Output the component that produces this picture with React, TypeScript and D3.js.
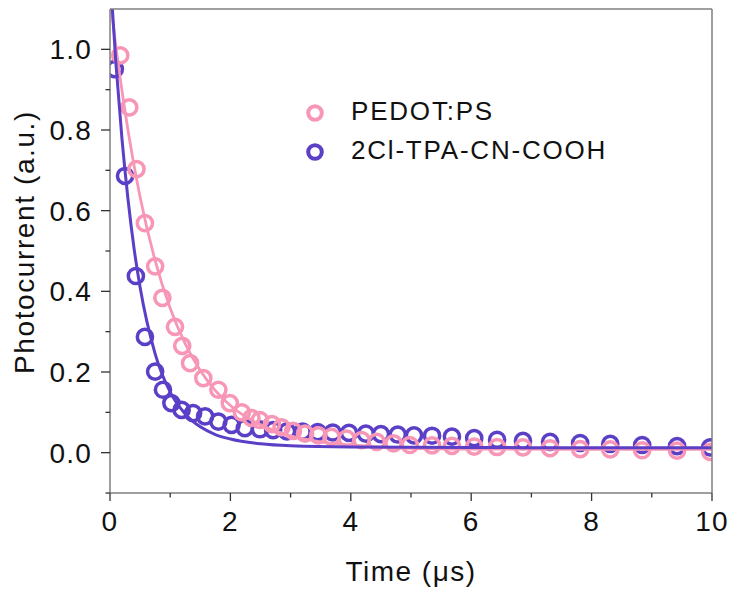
import React from "react";
import * as d3 from "d3";

const xTicks = [0, 2, 4, 6, 8, 10];
const yTicks = [0.0, 0.2, 0.4, 0.6, 0.8, 1.0];

const seriesNames = ["PEDOT:PS", "2Cl-TPA-CN-COOH"];
const seriesColors = ["#F896B6", "#5B3FC6"];

// PEDOT:PS measured points
const pedotT = [0.17, 0.32, 0.44, 0.58, 0.75, 0.87, 1.08, 1.2, 1.33, 1.55, 1.8, 1.99, 2.19, 2.35, 2.49, 2.69, 2.85, 3.04, 3.24, 3.46, 3.68, 3.93, 4.18, 4.43, 4.71, 4.98, 5.35, 5.68, 6.05, 6.43, 6.86, 7.31, 7.81, 8.31, 8.84, 9.42, 9.97];
const pedotV = [0.985, 0.856, 0.703, 0.569, 0.462, 0.384, 0.312, 0.265, 0.222, 0.185, 0.156, 0.123, 0.1, 0.086, 0.081, 0.071, 0.063, 0.054, 0.047, 0.043, 0.039, 0.035, 0.031, 0.027, 0.023, 0.019, 0.018, 0.017, 0.015, 0.014, 0.013, 0.011, 0.009, 0.008, 0.006, 0.005, 0.002];

// 2Cl-TPA-CN-COOH measured points
const tpaT = [0.08, 0.25, 0.43, 0.58, 0.75, 0.88, 1.02, 1.19, 1.38, 1.58, 1.8, 2.02, 2.24, 2.49, 2.71, 2.94, 3.2, 3.45, 3.7, 3.97, 4.25, 4.5, 4.78, 5.05, 5.35, 5.68, 6.05, 6.43, 6.86, 7.31, 7.81, 8.31, 8.84, 9.42, 9.97];
const tpaV = [0.951, 0.686, 0.438, 0.287, 0.201, 0.156, 0.123, 0.106, 0.098, 0.09, 0.077, 0.069, 0.061, 0.058, 0.056, 0.053, 0.052, 0.051, 0.05, 0.049, 0.047, 0.046, 0.045, 0.043, 0.042, 0.04, 0.036, 0.032, 0.029, 0.027, 0.024, 0.022, 0.019, 0.016, 0.013];

// Fit curves
const pedotFitT = [0, 0.1, 0.25, 0.5, 0.75, 1, 1.25, 1.5, 1.75, 2, 2.5, 3, 3.5, 4, 5, 6, 8, 10];
const pedotFitV = [1.128, 1.005, 0.846, 0.634, 0.476, 0.358, 0.27, 0.204, 0.154, 0.117, 0.069, 0.042, 0.027, 0.019, 0.011, 0.009, 0.008, 0.008];
const tpaFitT = [0, 0.1, 0.2, 0.3, 0.4, 0.5, 0.75, 1, 1.25, 1.5, 1.75, 2, 2.5, 3, 4, 6, 8, 10];
const tpaFitV = [1.19, 0.962, 0.776, 0.627, 0.506, 0.41, 0.245, 0.15, 0.096, 0.064, 0.045, 0.034, 0.022, 0.017, 0.014, 0.013, 0.012, 0.012];

const X0 = 110, X1 = 712, Y0 = 493, Y1 = 9;

export default function App() {
  const x = d3.scaleLinear().domain([0, 10]).range([X0, X1]);
  const y = d3.scaleLinear().domain([-0.1, 1.1]).range([Y0, Y1]);
  const line = d3
    .line<[number, number]>()
    .x((d) => x(d[0]))
    .y((d) => y(d[1]))
    .curve(d3.curveMonotoneX);

  const pedotFit = pedotFitT.map((t, i) => [t, pedotFitV[i]] as [number, number]);
  const tpaFit = tpaFitT.map((t, i) => [t, tpaFitV[i]] as [number, number]);
  const pedotPts = pedotT.map((t, i) => [t, pedotV[i]]);
  const tpaPts = tpaT.map((t, i) => [t, tpaV[i]]);

  const xMinor = d3.range(1, 10, 2);
  const yMinor = [-0.1, 0.1, 0.3, 0.5, 0.7, 0.9];
  const font = "Arial, 'Liberation Sans', sans-serif";
  const tickColor = "#333";
  const axisColor = "#7f7f7f";

  return (
    <svg
      width={731}
      height={594}
      style={{ position: "absolute", left: 0, top: 0, background: "#fff" }}
      fontFamily={font}
    >
      <defs>
        <clipPath id="plotClip">
          <rect x={X0} y={Y1} width={X1 - X0} height={Y0 - Y1} />
        </clipPath>
      </defs>
      <rect x={0} y={0} width={731} height={594} fill="#fff" />

      <g clipPath="url(#plotClip)">
        {tpaPts.map((p, i) => (
          <circle key={"b" + i} cx={x(p[0])} cy={y(p[1])} r={7.6} fill="none" stroke={seriesColors[1]} strokeWidth={3.5} />
        ))}
        {pedotPts.map((p, i) => (
          <circle key={"p" + i} cx={x(p[0])} cy={y(p[1])} r={7.6} fill="none" stroke={seriesColors[0]} strokeWidth={3.5} />
        ))}
        <path d={line(pedotFit) || ""} fill="none" stroke={seriesColors[0]} strokeWidth={2.8} />
        <path d={line(tpaFit) || ""} fill="none" stroke={seriesColors[1]} strokeWidth={3} />
      </g>

      {/* frame */}
      <line x1={X0} x2={X1} y1={Y1} y2={Y1} stroke={axisColor} strokeWidth={1.5} />
      <line x1={X1} x2={X1} y1={Y1} y2={Y0} stroke={axisColor} strokeWidth={1.5} />
      <line x1={X0} x2={X1} y1={Y0} y2={Y0} stroke={axisColor} strokeWidth={1.5} />
      <line x1={X0} x2={X0} y1={Y1} y2={Y0} stroke={axisColor} strokeWidth={1.5} />

      {/* x ticks */}
      {xTicks.map((t) => (
        <g key={"xt" + t}>
          <line x1={x(t)} x2={x(t)} y1={Y0} y2={Y0 + 8} stroke={tickColor} strokeWidth={1.3} />
          <text x={x(t)} y={531} textAnchor="middle" fontSize={28} letterSpacing={1.2} fill="#111">
            {String(t)}
          </text>
        </g>
      ))}
      {xMinor.map((t) => (
        <line key={"xm" + t} x1={x(t)} x2={x(t)} y1={Y0} y2={Y0 + 4.5} stroke={tickColor} strokeWidth={1.3} />
      ))}

      {/* y ticks */}
      {yTicks.map((t) => (
        <g key={"yt" + t}>
          <line x1={X0 - 9} x2={X0} y1={y(t)} y2={y(t)} stroke={tickColor} strokeWidth={1.3} />
          <text x={92} y={y(t) + 10} textAnchor="end" fontSize={28} letterSpacing={1.2} fill="#111">
            {t.toFixed(1)}
          </text>
        </g>
      ))}
      {yMinor.map((t) => (
        <line key={"ym" + t} x1={X0 - 4.5} x2={X0} y1={y(t)} y2={y(t)} stroke={tickColor} strokeWidth={1.3} />
      ))}

      {/* axis titles */}
      <text x={411} y={581} textAnchor="middle" fontSize={28} letterSpacing={1.5} fill="#111">
        Time (μs)
      </text>
      <text
        transform={`translate(34, 242) rotate(-90)`}
        textAnchor="middle"
        fontSize={28}
        letterSpacing={1.6}
        fill="#111"
      >
        Photocurrent (a.u.)
      </text>

      {/* legend */}
      {seriesNames.map((name, i) => (
        <g key={"lg" + i}>
          <circle cx={315} cy={113 + i * 39} r={6.8} fill="none" stroke={seriesColors[i]} strokeWidth={4} />
          <text x={351} y={120 + i * 38.5} fontSize={26} letterSpacing={1.8} fill="#111">
            {name}
          </text>
        </g>
      ))}
    </svg>
  );
}
